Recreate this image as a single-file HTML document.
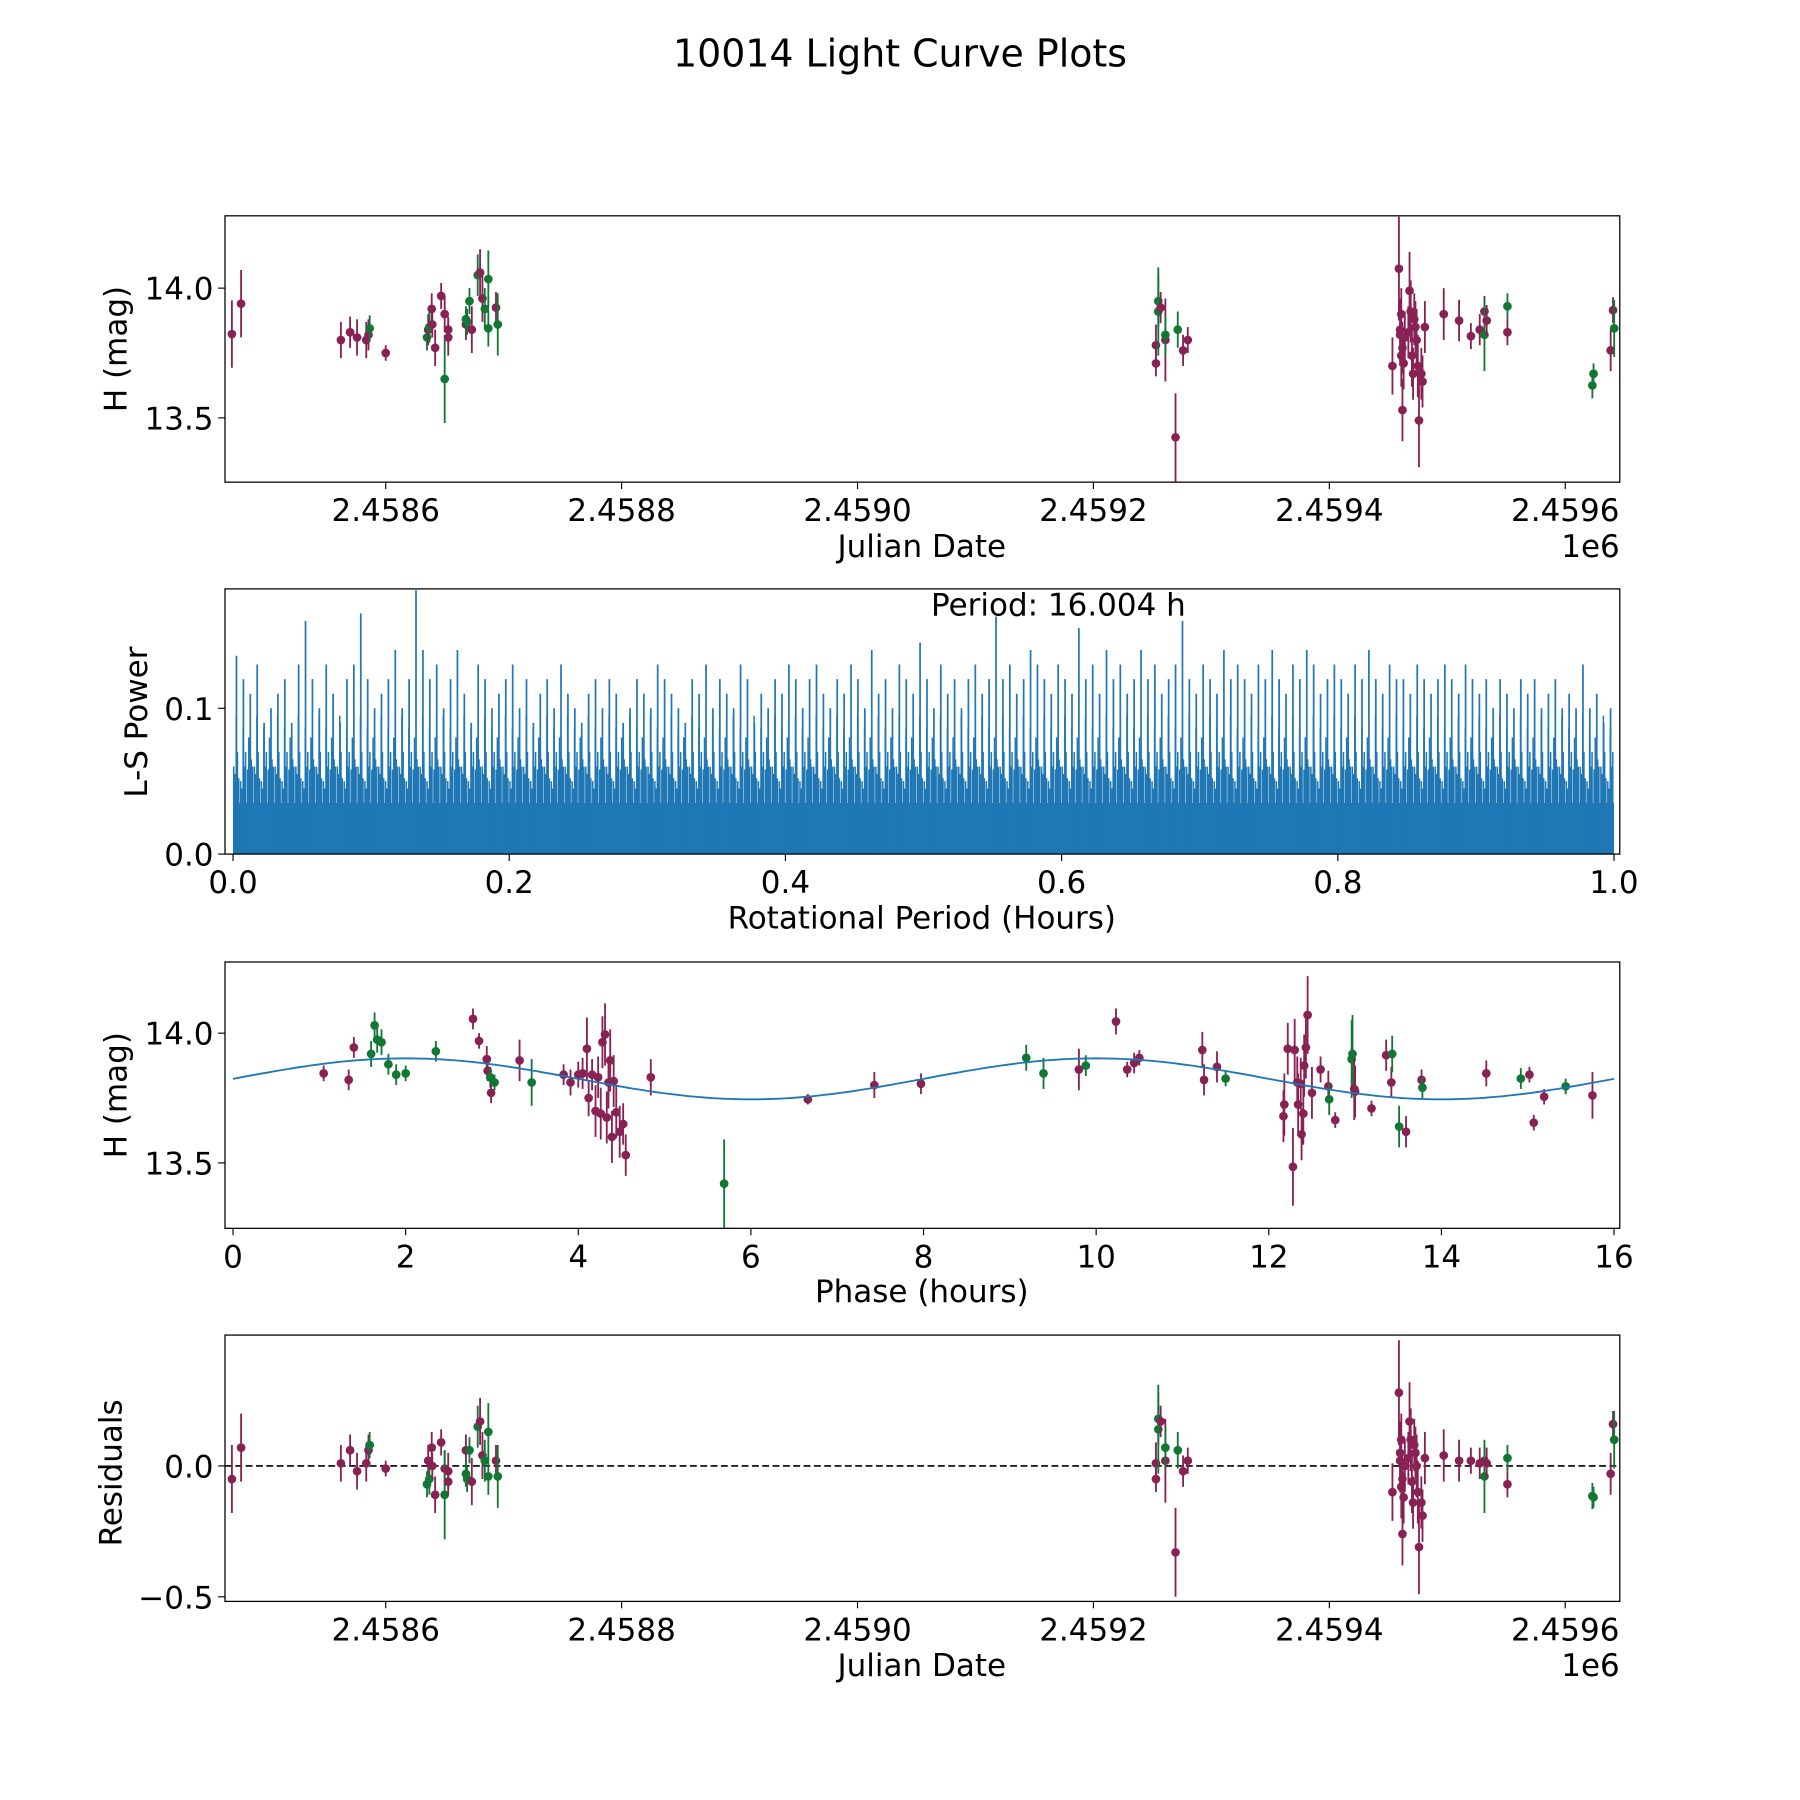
<!DOCTYPE html>
<html><head><meta charset="utf-8"><style>
html,body{margin:0;padding:0;background:#fff}
svg{display:block}
text{font-family:"DejaVu Sans","Liberation Sans",sans-serif;fill:#000}
</style></head><body>
<svg id="fig" xmlns="http://www.w3.org/2000/svg" width="1800" height="1800" viewBox="0 0 1568 1568">
<rect width="1568" height="1568" fill="#fff"/>
<text x="784" y="58" font-size="33" text-anchor="middle">10014 Light Curve Plots</text>
<g id="g1"></g><g id="g2"></g><g id="g3"></g><g id="g4"></g>
</svg>
<script>
// ---------- data (JD offsets from 2458000) ----------
const lcDates = [469.6,477.4,562,569.8,575.7,583.5,585.4,586.4,600,635,636,639,637,639.5,641.9,647,650,650,653,653,668,668,669,671,673,678,680,682,684,687,687,693.5,695,
1253,1253,1255,1255,1257,1261,1261,1269.6,1271.5,1276,1280,
1453.5,1459,1460,1461,1460,1462,1461,1463,1462,1464,1467,1468,1469,1470,1471,1472,1473,1474,1475,1476,1478,1479,1481,1497,1510,1520,1527.5,1531.5,1531.5,1533.4,1551,1551,1623,1624,1638.5,1640.5,1641.5];
const lcMags = [13.823,13.94,13.80,13.83,13.81,13.80,13.82,13.845,13.75,13.81,13.84,13.92,13.85,13.86,13.77,13.97,13.90,13.65,13.81,13.84,13.86,13.88,13.87,13.95,13.84,14.05,14.06,13.96,13.92,14.035,13.845,13.925,13.86,
13.71,13.78,13.91,13.95,13.925,13.80,13.82,13.425,13.84,13.76,13.80,
13.70,14.075,13.84,13.90,13.82,13.77,13.74,13.71,13.53,13.81,13.83,13.99,13.91,13.74,13.67,13.88,13.85,13.80,13.70,13.49,13.67,13.64,13.85,13.90,13.875,13.815,13.84,13.91,13.82,13.875,13.93,13.83,13.625,13.67,13.76,13.915,13.845];
const lcErrs = [0.13,0.13,0.07,0.06,0.07,0.07,0.06,0.05,0.03,0.05,0.06,0.06,0.06,0.05,0.07,0.05,0.07,0.17,0.07,0.05,0.06,0.05,0.05,0.05,0.09,0.08,0.09,0.09,0.08,0.11,0.07,0.06,0.12,
0.05,0.08,0.17,0.10,0.06,0.16,0.08,0.17,0.07,0.06,0.05,
0.11,0.2,0.12,0.1,0.12,0.1,0.12,0.1,0.12,0.1,0.1,0.15,0.12,0.12,0.1,0.1,0.1,0.12,0.12,0.18,0.1,0.1,0.1,0.1,0.08,0.05,0.06,0.06,0.14,0.06,0.05,0.05,0.05,0.04,0.08,0.05,0.11];
const lcGroup = "mmmmmmmgmgmmgmmmmgmmmgggmgmmgggmgm"+"mggmmgmgmmm"+"mmmmmmmmmmmmmmmmmmmmmmmmmmmgmgmggmmg";
const lcResid = [-0.05,0.07,0.01,0.06,-0.02,0.01,0.06,0.08,-0.01,-0.07,0.02,0.07,-0.05,0.0,-0.11,0.09,-0.01,-0.11,-0.02,-0.06,0.06,-0.03,-0.05,0.06,-0.06,0.15,0.17,0.04,0.02,0.13,-0.04,0.02,-0.04,
-0.05,0.01,0.14,0.18,0.17,0.02,0.07,-0.33,0.06,-0.02,0.02,
-0.1,0.28,0.05,0.1,0.02,-0.05,-0.08,-0.12,-0.26,0.0,0.03,0.17,0.1,-0.06,-0.14,0.08,0.05,0.0,-0.1,-0.31,-0.14,-0.19,0.03,0.04,0.02,0.02,0.01,0.02,-0.04,0.01,0.03,-0.07,-0.115,-0.12,-0.03,0.16,0.1];

// phase-folded points
const phPhase = [1.05,1.34,1.40,1.60,1.64,1.67,1.72,1.80,1.89,2.0,2.35,2.78,2.85,2.94,2.95,2.98,2.99,3.03,3.32,3.46,3.83,3.91,4.0,4.05,4.1,4.12,4.16,4.2,4.23,4.26,4.28,4.31,4.33,4.35,4.37,4.39,4.41,4.44,4.48,4.52,4.55,4.84,5.69,6.66,7.43,7.97,9.19,9.39,9.80,9.88,10.23,10.36,10.44,10.5,11.23,11.25,11.40,11.50,
12.17,12.18,12.22,12.28,12.30,12.33,12.34,12.37,12.38,12.40,12.41,12.43,12.45,12.50,12.60,12.69,12.70,12.77,12.96,12.97,12.99,13.0,13.19,13.36,13.42,13.43,13.51,13.59,13.77,13.78,14.52,14.92,15.02,15.07,15.19,15.44,15.75];
const phMags = [13.845,13.82,13.945,13.92,14.03,13.975,13.965,13.88,13.84,13.845,13.93,14.055,13.97,13.90,13.855,13.83,13.77,13.81,13.895,13.81,13.84,13.81,13.84,13.845,13.94,13.75,13.84,13.70,13.83,13.69,13.965,13.995,13.675,13.81,13.895,13.60,13.815,13.695,13.62,13.65,13.53,13.83,13.42,13.745,13.80,13.805,13.905,13.845,13.86,13.875,14.045,13.86,13.885,13.905,13.935,13.82,13.87,13.825,
13.68,13.725,13.94,13.485,13.935,13.81,13.725,13.805,13.61,13.69,13.875,13.945,14.07,13.77,13.86,13.795,13.745,13.665,13.90,13.92,13.785,13.775,13.71,13.915,13.81,13.92,13.64,13.62,13.82,13.79,13.845,13.825,13.84,13.655,13.755,13.795,13.76];
const phErrs = [0.03,0.04,0.04,0.05,0.05,0.05,0.05,0.04,0.04,0.03,0.04,0.04,0.03,0.05,0.04,0.04,0.04,0.03,0.08,0.09,0.04,0.05,0.05,0.06,0.12,0.07,0.06,0.1,0.08,0.1,0.1,0.12,0.1,0.1,0.12,0.1,0.1,0.1,0.1,0.08,0.08,0.07,0.17,0.02,0.05,0.04,0.05,0.06,0.08,0.04,0.05,0.03,0.04,0.03,0.07,0.06,0.06,0.03,
0.1,0.12,0.1,0.15,0.12,0.1,0.12,0.1,0.1,0.12,0.12,0.12,0.15,0.1,0.05,0.06,0.06,0.03,0.15,0.15,0.12,0.1,0.03,0.06,0.06,0.07,0.08,0.06,0.04,0.04,0.05,0.04,0.03,0.03,0.03,0.03,0.09];
const phGroup = "mmmggggggggmmmmgmgmgmmmmmmmmmmmmmmmmmmmmmmgmmmggmgmmmmmmmg"+"mmmmmmmmmmmmmmmmgmggmmmmmggmmgmgmmmg";
const modelMean = [13.824];
const modelAmp = [0.079];
const modelPeriod = [8.0];

// periodogram spike heights, evenly spaced over 0..1 hours
const lsSpikes = [0.136,0.12,0.11,0.13,0.09,0.10,0.11,0.12,0.09,0.13,0.16,0.12,0.10,0.13,0.11,0.09,0.12,0.13,0.165,0.12,0.10,0.11,0.12,0.14,0.10,0.12,0.181,0.14,0.12,0.13,0.10,0.12,0.14,0.11,0.09,0.13,0.12,0.10,0.11,0.12,
0.13,0.10,0.12,0.09,0.11,0.12,0.10,0.13,0.11,0.10,0.09,0.11,0.12,0.10,0.12,0.11,0.09,0.10,0.12,0.11,0.10,0.13,0.12,0.11,0.10,0.09,0.12,0.11,0.13,0.10,0.12,0.11,0.10,0.13,0.12,0.09,0.11,0.10,0.12,0.11,
0.13,0.12,0.10,0.12,0.13,0.11,0.10,0.12,0.11,0.13,0.12,0.10,0.14,0.11,0.12,0.10,0.13,0.12,0.11,0.145,0.12,0.10,0.13,0.11,0.12,0.10,0.12,0.13,0.11,0.12,0.163,0.12,0.13,0.11,0.12,0.14,0.13,0.12,0.11,0.13,
0.12,0.11,0.155,0.12,0.13,0.11,0.14,0.12,0.13,0.11,0.12,0.14,0.12,0.13,0.11,0.12,0.13,0.16,0.12,0.11,0.13,0.12,0.11,0.14,0.12,0.13,0.12,0.11,0.13,0.12,0.14,0.12,0.11,0.13,0.12,0.14,0.13,0.11,0.12,0.13,
0.12,0.11,0.13,0.12,0.14,0.12,0.11,0.13,0.12,0.12,0.11,0.13,0.12,0.11,0.12,0.13,0.12,0.11,0.13,0.12,0.11,0.12,0.10,0.12,0.11,0.10,0.12,0.11,0.12,0.10,0.11,0.12,0.10,0.11,0.10,0.13,0.10,0.11,0.09,0.10];
const lsFloor = [0.035];
const lsMid = [0.06,0.05,0.07,0.055,0.065,0.05,0.075,0.06,0.045,0.07,0.058,0.066,0.052,0.08,0.06];

const xTicksJD = ["2.4586","2.4588","2.4590","2.4592","2.4594","2.4596"];
const xTickJDVals = [600,800,1000,1200,1400,1600];
const magTicks = [14.0,13.5];
const lsYTicks = [0.0,0.1];
const lsXTicks = [0.0,0.2,0.4,0.6,0.8,1.0];
const phXTicks = [0,2,4,6,8,10,12,14,16];
const resTicks = [0.0,-0.5];

const NS="http://www.w3.org/2000/svg";
const COL={m:"#882255",g:"#117733"};
const FS=27;
function el(parent,tag,attrs,txt){const e=document.createElementNS(NS,tag);for(const k in attrs)e.setAttribute(k,attrs[k]);if(txt!==undefined)e.textContent=txt;parent.appendChild(e);return e;}
function lin(d0,d1,p0,p1){return v=>p0+(v-d0)*(p1-p0)/(d1-d0);}

function frame(g,L,T,R,B,name){
  const r=el(g,'rect',{x:L,y:T,width:R-L,height:B-T,fill:'none',stroke:'#000','stroke-width':1.1});
  
  
}
function xtick(g,x,B,label,name){
  const t=el(g,'line',{x1:x,x2:x,y1:B,y2:B+6,stroke:'#000','stroke-width':1});
  
  
  const s=el(g,'text',{x:x,y:B+34,'font-size':FS,'text-anchor':'middle'},label);
  
  
}
function ytick(g,y,L,label,name){
  const t=el(g,'line',{x1:L-6,x2:L,y1:y,y2:y,stroke:'#000','stroke-width':1});
  
  
  const s=el(g,'text',{x:L-10,y:y+10,'font-size':FS,'text-anchor':'end'},label);
  
  
}
function label(g,x,y,txt,rot,name,anchor){
  const a={x:x,y:y,'font-size':FS,'text-anchor':anchor||'middle'};
  if(rot)a.transform='rotate(-90 '+x+' '+y+')';
  const s=el(g,'text',a,txt);
  
  
}
function points(g,xs,ys,es,grp,X,Y,L,T,R,B,name){
  const clip='clip-'+name;
  const d=el(g,'clipPath',{id:clip});el(d,'rect',{x:L,y:T,width:R-L,height:B-T});
  const pg=el(g,'g',{'clip-path':'url(#'+clip+')'});
  for(let i=0;i<xs.length;i++){
    const c=COL[grp[i]]||COL.m;
    const x=X(xs[i]),y=Y(ys[i]);
    const ln=el(pg,'line',{x1:x,x2:x,y1:Y(ys[i]-es[i]),y2:Y(ys[i]+es[i]),stroke:c,'stroke-width':1.6});
    
    
    const p=el(pg,'circle',{cx:x,cy:y,r:3.8,fill:c});
    
    
  }
}

// Panel 1
(function(){
  const g=document.getElementById('g1');const L=196,T=188,R=1411,B=420;
  const X=lin(600,800,336,541.5),Y=lin(14.0,13.5,251,364);
  points(g,lcDates,lcMags,lcErrs,lcGroup,X,Y,L,T,R,B,'lightcurve');
  frame(g,L,T,R,B,'lightcurve-axes');
  xTickJDVals.forEach((v,i)=>xtick(g,X(v),B,xTicksJD[i],'jd-x'));
  magTicks.forEach(v=>ytick(g,Y(v),L,v.toFixed(1),'mag-y'));
  label(g,803,485,'Julian Date',false,'x-axis-title-julian-date');
  label(g,1411,485,'1e6',false,'x-offset-label','end');
  label(g,110,304,'H (mag)',true,'y-axis-title-h-mag');
})();

// Panel 2
(function(){
  const g=document.getElementById('g2');const L=196,T=513,R=1411,B=744;
  const X=lin(0,1,203,1406),Y=lin(0,0.1,744,617);
  const fl=el(g,'rect',{x:X(0),y:Y(lsFloor[0]),width:X(1)-X(0),height:Y(0)-Y(lsFloor[0]),fill:'#1f77b4'});
  
  
  const d=el(g,'clipPath',{id:'clip-ls'});el(d,'rect',{x:L,y:T,width:R-L,height:B-T});
  const pg=el(g,'g',{'clip-path':'url(#clip-ls)'});
  const n=lsSpikes.length, m=lsMid.length;
  for(let i=0;i<n;i++){
    const v=(i+0.5)/n;
    const l=el(pg,'line',{x1:X(v),x2:X(v),y1:Y(0),y2:Y(lsSpikes[i]),stroke:'#1f77b4','stroke-width':1.5});
    
    
    for(let k=0;k<5;k++){
      const vv=(i+0.1+0.18*k)/n;
      const h=lsMid[(i*5+k*3)%m]+(k===2?0.02:0);
      const l2=el(pg,'line',{x1:X(vv),x2:X(vv),y1:Y(0),y2:Y(h),stroke:'#1f77b4','stroke-width':1.3});
      
      
    }
  }
  frame(g,L,T,R,B,'periodogram-axes');
  lsXTicks.forEach(v=>xtick(g,X(v),B,v.toFixed(1),'period-x'));
  lsYTicks.forEach(v=>ytick(g,Y(v),L,v.toFixed(1),'power-y'));
  label(g,922,536,'Period: 16.004 h',false,'best-period-annotation');
  label(g,803,809,'Rotational Period (Hours)',false,'x-axis-title-rotational-period');
  label(g,128,629,'L-S Power',true,'y-axis-title-ls-power');
})();

// Panel 3
(function(){
  const g=document.getElementById('g3');const L=196,T=838,R=1411,B=1070;
  const X=lin(0,16,203,1406),Y=lin(14.0,13.5,900,1013);
  points(g,phPhase,phMags,phErrs,phGroup,X,Y,L,T,R,B,'phased');
  let d='';
  for(let k=0;k<=200;k++){const p=16*k/200;const mm=modelMean[0]+modelAmp[0]*Math.sin(2*Math.PI*p/modelPeriod[0]);d+=(k?'L':'M')+X(p).toFixed(1)+' '+Y(mm).toFixed(1);}
  const c=el(g,'path',{d:d,fill:'none',stroke:'#1f77b4','stroke-width':1.6});
  
  
  frame(g,L,T,R,B,'phased-axes');
  phXTicks.forEach(v=>xtick(g,X(v),B,String(v),'phase-x'));
  magTicks.forEach(v=>ytick(g,Y(v),L,v.toFixed(1),'phased-mag-y'));
  label(g,803,1134,'Phase (hours)',false,'x-axis-title-phase');
  label(g,110,954,'H (mag)',true,'y-axis-title-phased-mag');
})();

// Panel 4
(function(){
  const g=document.getElementById('g4');const L=196,T=1163,R=1411,B=1395;
  const X=lin(600,800,336,541.5),Y=lin(0,-0.5,1277,1391);
  const z=el(g,'line',{x1:L,x2:R,y1:Y(0),y2:Y(0),stroke:'#000','stroke-width':1.5,'stroke-dasharray':'6,3'});
  
  
  points(g,lcDates,lcResid,lcErrs,lcGroup,X,Y,L,T,R,B,'residual');
  frame(g,L,T,R,B,'residual-axes');
  xTickJDVals.forEach((v,i)=>xtick(g,X(v),B,xTicksJD[i],'res-jd-x'));
  resTicks.forEach(v=>ytick(g,Y(v),L,(v<0?'\u2212':'')+Math.abs(v).toFixed(1),'res-y'));
  label(g,803,1460,'Julian Date',false,'x-axis-title-residual-julian-date');
  label(g,1411,1460,'1e6',false,'residual-x-offset-label','end');
  label(g,106,1283,'Residuals',true,'y-axis-title-residuals');
})();
</script>
</body></html>
